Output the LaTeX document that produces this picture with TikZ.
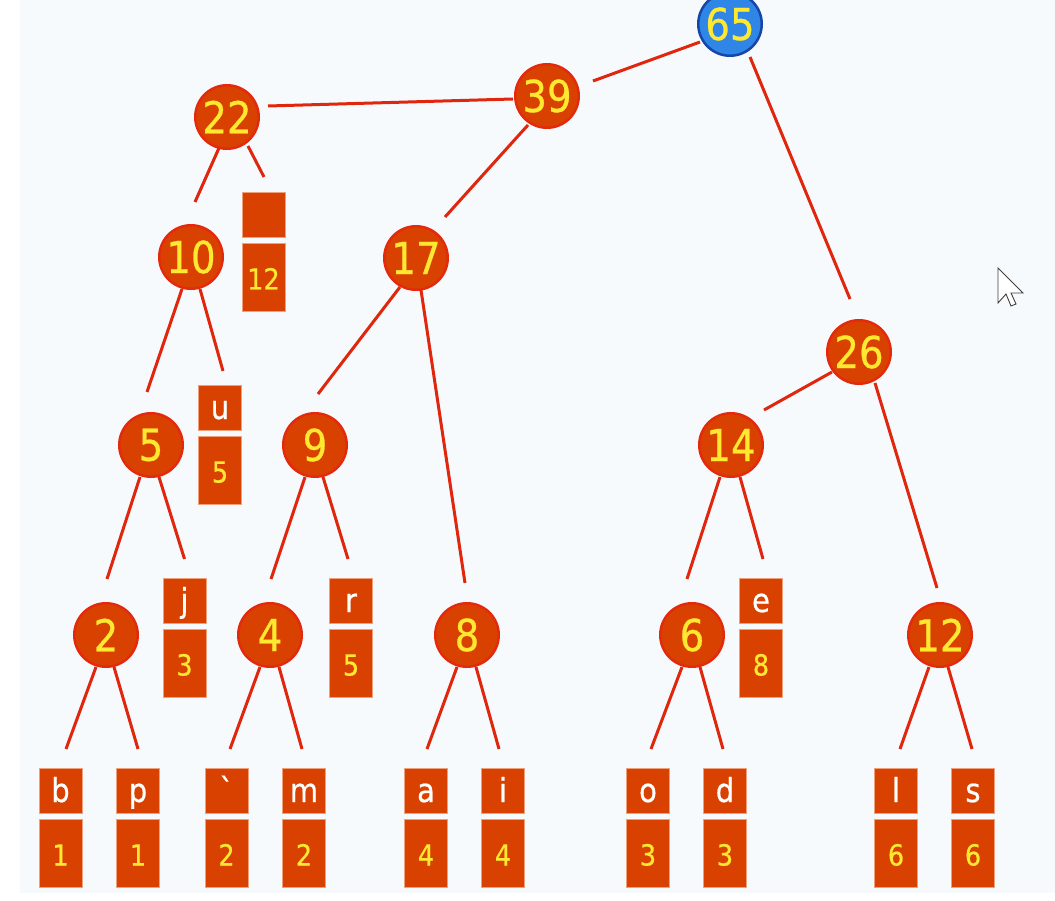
\documentclass[tikz,border=0pt]{standalone}
\usepackage{fontspec}
\usetikzlibrary{calc}
\newfontfamily\vfont[FakeStretch=0.88,FakeBold=0.6]{DejaVu Sans}
\definecolor{bgblue}{HTML}{F6FAFD}
\definecolor{nodefill}{HTML}{D94100}
\definecolor{circedge}{HTML}{E42A0C}
\definecolor{edgered}{HTML}{E0260C}
\definecolor{boxedge}{HTML}{F0A07A}
\definecolor{numyellow}{HTML}{FFE830}
\definecolor{rootblue}{HTML}{2F86E6}
\definecolor{rootedge}{HTML}{1646A8}
\newcommand\leafpair[5]{%
  \node[lettbox] (#1) at (#2,#3+22.5) {#4};
  \node[numbox] (#1n) at (#2,#3+85) {#5};
  \coordinate (#1t) at (#2,#3);}
% \lnk{parent}{dx}{dy}{child}{dx}{dy}
\newcommand\lnk[6]{\draw[edge] ($(#1)+(#2,#3)$) -- ($(#4)+(#5,#6)$);}
\begin{document}
\begin{tikzpicture}[x=1pt,y=-1pt,
  circ/.style={circle, draw=circedge, fill=nodefill, line width=2.5pt, minimum size=63.5pt, inner sep=0pt, text=numyellow, font=\vfont\fontsize{44}{44}\selectfont},
  rootnode/.style={circ, fill=rootblue, draw=rootedge},
  lettbox/.style={rectangle, fill=nodefill, draw=boxedge, line width=0.8pt, minimum width=43pt, minimum height=45pt, inner sep=0pt, text=white, font=\vfont\fontsize{33}{33}\selectfont, text height=26pt, text depth=3pt},
  numbox/.style={rectangle, fill=nodefill, draw=boxedge, line width=0.8pt, minimum width=43pt, minimum height=68pt, inner sep=0pt, text=numyellow, font=\vfont\fontsize{29}{29}\selectfont, text height=25pt, text depth=0pt},
  edge/.style={draw=edgered, line width=3pt}
]
\useasboundingbox (0,0) rectangle (1055,901);
\fill[white] (0,0) rectangle (1055,901);
\fill[bgblue] (20,0) rectangle (1055,893);

% circles
\node[rootnode] (n65) at (730,24) {65};
\node[circ] (n39) at (547,96) {39};
\node[circ] (n22) at (227,117) {22};
\node[circ] (n10) at (191,257) {10};
\node[circ] (n17) at (416,258) {17};
\node[circ] (n26) at (859,352) {26};
\node[circ] (n5) at (151,445) {5};
\node[circ] (n9) at (315,445) {9};
\node[circ] (n14) at (731,445) {14};
\node[circ] (n2) at (106,635) {2};
\node[circ] (n4) at (270,635) {4};
\node[circ] (n8) at (467,635) {8};
\node[circ] (n6) at (692,635) {6};
\node[circ] (n12) at (940,635) {12};

% leaves
\leafpair{Lsp}{263.5}{192}{}{12}
\leafpair{Lu}{220}{385}{u}{5}
\leafpair{Lj}{184.5}{578}{j}{3}
\leafpair{Lr}{351}{578}{r}{5}
\leafpair{Le}{761}{578}{e}{8}
\leafpair{Lb}{60.5}{768}{b}{1}
\leafpair{Lp}{138}{768}{p}{1}
\leafpair{Lg}{226.5}{768}{\char"60}{2}
\leafpair{Lm}{304}{768}{m}{2}
\leafpair{La}{426}{768}{a}{4}
\leafpair{Li}{503}{768}{i}{4}
\leafpair{Lo}{648}{768}{o}{3}
\leafpair{Ld}{725}{768}{d}{3}
\leafpair{Ll}{896}{768}{l}{6}
\leafpair{Ls}{973}{768}{s}{6}

% edges
\lnk{n65}{-30}{18}{n39}{46}{-15}
\lnk{n65}{20}{33}{n26}{-9}{-53}
\lnk{n39}{-34}{3}{n22}{41}{-11}
\lnk{n39}{-19}{29}{n17}{29}{-41}
\lnk{n22}{-8}{31}{n10}{4}{-55}
\lnk{n22}{21}{29}{Lspt}{0.5}{-15}
\lnk{n10}{-9}{32}{n5}{-4}{-53}
\lnk{n10}{9}{32}{Lut}{3}{-14}
\lnk{n17}{-16}{29}{n9}{3}{-51}
\lnk{n17}{5}{32}{n8}{-2}{-52}
\lnk{n26}{-27}{20}{n14}{33}{-35}
\lnk{n26}{16}{31}{n12}{-3}{-47}
\lnk{n5}{-11}{32}{n2}{1}{-56}
\lnk{n5}{8}{32}{Ljt}{0}{-19}
\lnk{n9}{-10}{32}{n4}{1}{-56}
\lnk{n9}{8}{32}{Lrt}{-3}{-19}
\lnk{n14}{-11}{32}{n6}{-5}{-56}
\lnk{n14}{9}{32}{Let}{2}{-19}
\lnk{n2}{-10}{32}{Lbt}{5.5}{-19}
\lnk{n2}{8}{32}{Lpt}{0}{-19}
\lnk{n4}{-10}{32}{Lgt}{3.5}{-19}
\lnk{n4}{9}{32}{Lmt}{-2}{-19}
\lnk{n8}{-10}{32}{Lat}{1}{-19}
\lnk{n8}{9}{32}{Lit}{-4}{-19}
\lnk{n6}{-10}{32}{Lot}{3}{-19}
\lnk{n6}{8}{32}{Ldt}{-2}{-19}
\lnk{n12}{-11}{32}{Llt}{4}{-19}
\lnk{n12}{8}{32}{Lst}{-1}{-19}

% mouse cursor
\draw[fill=white, draw=black!75, line width=0.9pt, line join=miter]
  (998,268) -- (998,303) -- (1006,294) -- (1011,306) -- (1016,304) -- (1011,293) -- (1023,293) -- cycle;
\end{tikzpicture}
\end{document}
